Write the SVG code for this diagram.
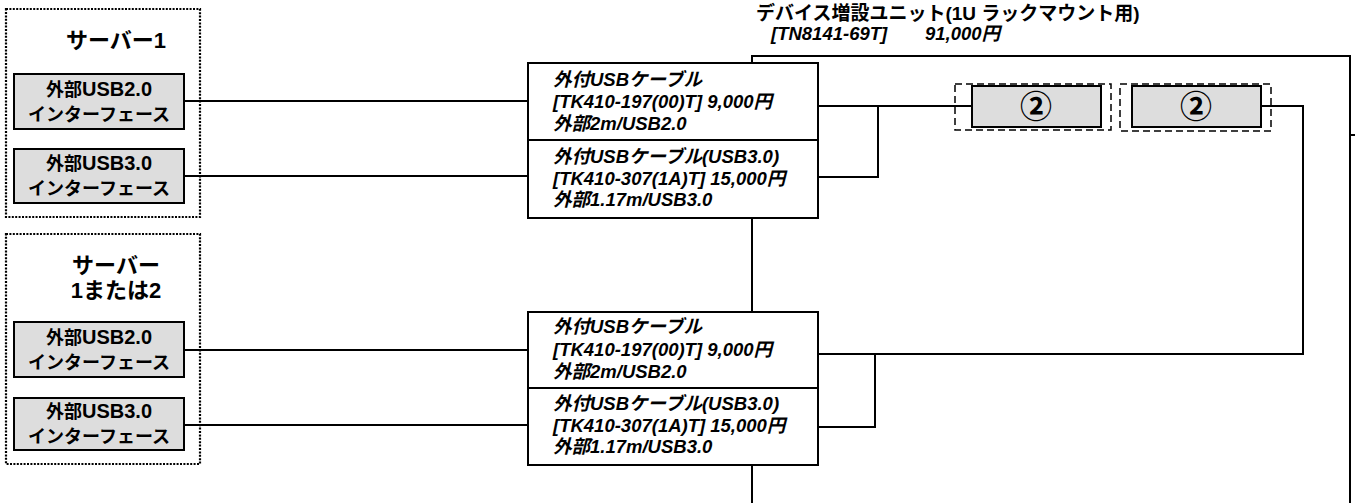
<svg xmlns="http://www.w3.org/2000/svg" width="1355" height="503" viewBox="0 0 1355 503">
<style>
.bg{fill:#ffffff}
.grp{fill:none;stroke:#000;stroke-width:2.2;stroke-dasharray:2 1.4}
.dash{fill:none;stroke:#000;stroke-width:1.5;stroke-dasharray:7 4}
.ifbox{fill:#dddddd;stroke:#000;stroke-width:2}
.cbox{fill:#ffffff;stroke:#000;stroke-width:2}
.line{fill:none;stroke:#000;stroke-width:2}
.t{font-family:"Liberation Sans","Noto Sans CJK JP",sans-serif;font-weight:bold;fill:#000}
.ift{font-size:18px;text-anchor:middle}
.lat{font-size:20px}
.ttl{font-size:22px;text-anchor:middle}
.ct{font-size:18.5px;font-style:italic}
.num{font-family:"Noto Sans CJK JP",sans-serif;font-size:32px;text-anchor:middle;font-weight:bold;fill:#000}
</style>
<rect class="bg" x="0" y="0" width="1355" height="503"/>

<g id="connectors">
  <line class="line" x1="184" y1="101" x2="528" y2="101"/>
  <line class="line" x1="184" y1="176" x2="528" y2="176"/>
  <line class="line" x1="184" y1="350" x2="528" y2="350"/>
  <line class="line" x1="184" y1="425" x2="528" y2="425"/>
  <line class="line" x1="818" y1="106" x2="972" y2="106"/>
  <polyline class="line" points="818,177 878,177 878,106"/>
  <polyline class="line" points="818,354 1303,354 1303,106 1261,106"/>
  <polyline class="line" points="818,427 875,427 875,354"/>
</g>

<g id="device-unit">
  <polyline class="line" points="752,63 752,56 1350,56 1350,503"/>
  <line class="line" x1="752" y1="218" x2="752" y2="312"/>
  <line class="line" x1="752" y1="465" x2="752" y2="503"/>
  <line class="line" x1="1350" y1="135" x2="1355" y2="135"/>
  <text class="t" x="756" y="20" font-size="19">デバイス増設ユニット(1U ラックマウント用)</text>
  <text class="t ct" x="771" y="40">[TN8141-69T]</text>
  <text class="t ct" x="925" y="40">91,000円</text>
</g>

<g id="server1">
  <rect class="grp" x="6" y="9" width="194" height="208"/>
  <text class="t ttl" x="116" y="48">サーバー1</text>
</g>
<g id="if1">
  <rect class="ifbox" x="14" y="74" width="170" height="55"/>
  <text class="t ift" x="99" y="96">外部<tspan class="lat">USB2.0</tspan></text>
  <text class="t ift" x="99" y="121">インターフェース</text>
</g>
<g id="if2">
  <rect class="ifbox" x="14" y="149" width="170" height="54"/>
  <text class="t ift" x="99" y="170">外部<tspan class="lat">USB3.0</tspan></text>
  <text class="t ift" x="99" y="195">インターフェース</text>
</g>

<g id="server2">
  <rect class="grp" x="6" y="234" width="194" height="230"/>
  <text class="t ttl" x="116" y="273">サーバー</text>
  <text class="t ttl" x="116" y="298">1または2</text>
</g>
<g id="if3">
  <rect class="ifbox" x="14" y="322" width="170" height="55"/>
  <text class="t ift" x="99" y="344">外部<tspan class="lat">USB2.0</tspan></text>
  <text class="t ift" x="99" y="369">インターフェース</text>
</g>
<g id="if4">
  <rect class="ifbox" x="14" y="398" width="170" height="52"/>
  <text class="t ift" x="99" y="418">外部<tspan class="lat">USB3.0</tspan></text>
  <text class="t ift" x="99" y="443">インターフェース</text>
</g>

<g id="cable1">
  <rect class="cbox" x="528" y="63" width="290" height="77"/>
  <text class="t ct" x="553" y="86">外付USBケーブル</text>
  <text class="t ct" x="553" y="108">[TK410-197(00)T] 9,000円</text>
  <text class="t ct" x="553" y="130">外部2m/USB2.0</text>
</g>
<g id="cable2">
  <rect class="cbox" x="528" y="140" width="290" height="78"/>
  <text class="t ct" x="553" y="163">外付USBケーブル(USB3.0)</text>
  <text class="t ct" x="553" y="185">[TK410-307(1A)T] 15,000円</text>
  <text class="t ct" x="553" y="206">外部1.17m/USB3.0</text>
</g>
<g id="cable3">
  <rect class="cbox" x="528" y="312" width="290" height="76"/>
  <text class="t ct" x="553" y="333">外付USBケーブル</text>
  <text class="t ct" x="553" y="356">[TK410-197(00)T] 9,000円</text>
  <text class="t ct" x="553" y="378">外部2m/USB2.0</text>
</g>
<g id="cable4">
  <rect class="cbox" x="528" y="388" width="290" height="77"/>
  <text class="t ct" x="553" y="410">外付USBケーブル(USB3.0)</text>
  <text class="t ct" x="553" y="432">[TK410-307(1A)T] 15,000円</text>
  <text class="t ct" x="553" y="453">外部1.17m/USB3.0</text>
</g>

<g id="slot1">
  <rect class="dash" x="955" y="84" width="156" height="46"/>
  <rect class="ifbox" x="972" y="86" width="129" height="41"/>
  <text class="num" x="1036" y="118">②</text>
</g>
<g id="slot2">
  <rect class="dash" x="1120" y="84" width="151" height="47"/>
  <rect class="ifbox" x="1132" y="86" width="129" height="41"/>
  <text class="num" x="1196" y="118">②</text>
</g>
</svg>
